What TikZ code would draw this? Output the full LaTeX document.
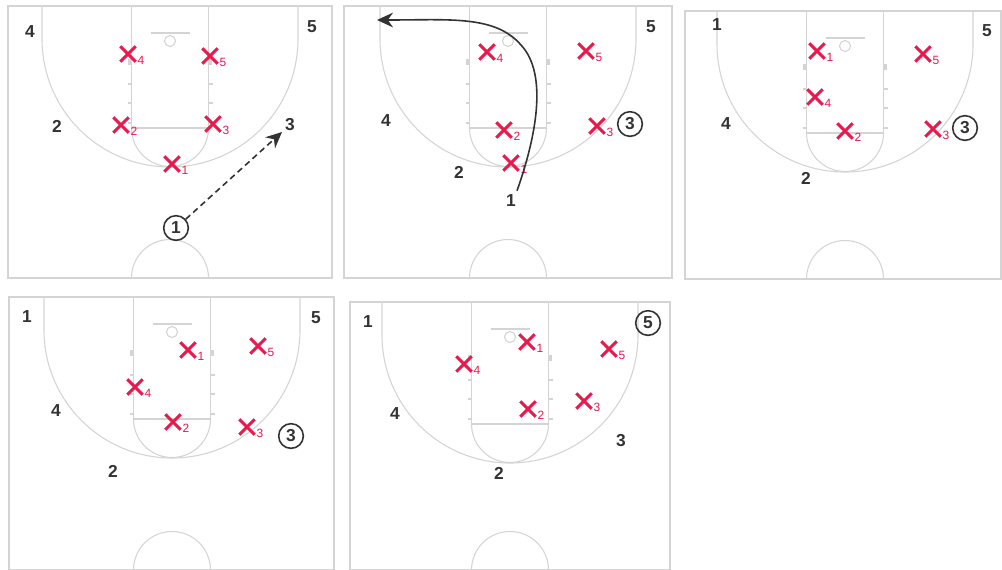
\documentclass[tikz,border=0pt]{standalone}
\usepackage{fontspec}
\setsansfont{Liberation Sans}
\usetikzlibrary{arrows.meta,shapes.misc,calc}
\definecolor{courtgray}{HTML}{D4D4D4}
\definecolor{ink}{HTML}{333333}
\definecolor{xred}{HTML}{E8194C}

% one half court: left, top, right, bottom, centre x
\newcommand{\halfcourt}[5]{%
  \draw[court] (#1,#2) rectangle (#3,#4);
  \draw[court] (#5-38.5,#2) rectangle (#5+38.5,#2+122);
  \draw[court] (#5-128,#2) -- (#5-128,#2+33) arc[start angle=180, end angle=0, radius=128] -- (#5+128,#2);
  \draw[court] (#5-38.5,#2+122) arc[start angle=180, end angle=0, radius=38.5];
  \draw[court] (#5-19.5,#2+27) -- (#5+19.5,#2+27);
  \draw[court] (#5,#2+35) circle[radius=5.5];
  \foreach \h in {78,97,117} {
    \draw[court] (#5-38.5,#2+\h) -- (#5-42.5,#2+\h);
    \draw[court] (#5+38.5,#2+\h) -- (#5+42.5,#2+\h);
  }
  \fill[courtgray] (#5-42,#2+53) rectangle (#5-38.5,#2+59);
  \fill[courtgray] (#5+38.5,#2+53) rectangle (#5+42,#2+59);
  \draw[court] (#5-38.5,#4) arc[start angle=180, end angle=360, radius=38.5];
}

\begin{document}
\begin{tikzpicture}[x=0.75pt, y=-0.75pt,
    court/.style={draw=courtgray, line width=0.8pt},
    offp/.style={font=\sffamily\bfseries\fontsize{13}{15}\selectfont, text=ink, inner sep=2pt},
    ballp/.style={offp, circle, draw=ink, line width=1.2pt, minimum size=18.5pt, inner sep=0pt},
    defx/.style={cross out, draw=xred, line width=2.3pt, minimum size=9.3pt, inner sep=0pt},
    xsub/.style={font=\sffamily\fontsize{9}{10}\selectfont, text=xred, inner sep=0.6pt, xshift=0.6pt, yshift=-4.5pt},
    passline/.style={-{Stealth[length=12pt, width=11pt]}, line width=1.2pt, ink, dash pattern=on 4.5pt off 3pt},
    cutline/.style={-{Stealth[length=12pt, width=11pt]}, line width=1.2pt, ink}]
    \useasboundingbox[fill=white] (0,0) rectangle (1002,569);

    % Courts
    \halfcourt{8}{6}{332}{278}{170}
    \halfcourt{344}{6}{672}{278}{508}
    \halfcourt{685}{11}{1001}{279}{845}
    \halfcourt{9}{297}{334}{570}{172}
    \halfcourt{350}{302}{670}{570}{510}

    % Panel 1: point passes to the wing
    \node[offp] (a4) at (30,32) {4};
    \node[offp] (a5) at (312,27) {5};
    \node[offp] (a2) at (57,126) {2};
    \node[offp] (a3) at (290,125) {3};
    \node[ballp] (a1) at (176,228) {1};
    \foreach \x/\y/\n in {128/54/4, 210/56/5, 121/125/2, 213/124/3, 172/164/1}
        \node[defx, label={[xsub]east:\n}] (a-x\n) at (\x,\y) {};
    \coordinate (a1pass) at (282,132);
    \draw[passline] (a1) -- (a1pass);

    % Panel 2: 1 cuts through to the corner
    \node[offp] (b5) at (651,27) {5};
    \node[offp] (b4) at (386,121) {4};
    \node[offp] (b2) at (459,172) {2};
    \node[offp] (b1) at (511,201) {1};
    \node[ballp] (b3) at (630,124) {3};
    \foreach \x/\y/\n in {487/52/4, 586/51/5, 504/130/2, 597/126/3, 511/163/1}
        \node[defx, label={[xsub]east:\n}] (b-x\n) at (\x,\y) {};
    \coordinate (b1cut) at (377,20);
    \draw[cutline] ([xshift=4.5pt,yshift=1pt]b1.north) .. controls (535,140) and (549,75) .. (521,45)
        .. controls (495,15) and (450,20) .. (b1cut);

    % Panel 3
    \node[offp] (c1) at (717,25) {1};
    \node[offp] (c5) at (987,31) {5};
    \node[offp] (c4) at (726,124) {4};
    \node[offp] (c2) at (806,178) {2};
    \node[ballp] (c3) at (965,128) {3};
    \foreach \x/\y/\n in {817/51/1, 923/54/5, 815/97/4, 845/131/2, 933/129/3}
        \node[defx, label={[xsub]east:\n}] (c-x\n) at (\x,\y) {};

    % Panel 4
    \node[offp] (d1) at (27,317) {1};
    \node[offp] (d5) at (316,318) {5};
    \node[offp] (d4) at (56,411) {4};
    \node[offp] (d2) at (113,471) {2};
    \node[ballp] (d3) at (291,436) {3};
    \foreach \x/\y/\n in {188/350/1, 258/346/5, 135/387/4, 173/422/2, 247/427/3}
        \node[defx, label={[xsub]east:\n}] (d-x\n) at (\x,\y) {};

    % Panel 5
    \node[offp] (e1) at (368,322) {1};
    \node[offp] (e4) at (395,414) {4};
    \node[offp] (e3) at (621,441) {3};
    \node[offp] (e2) at (499,473) {2};
    \node[ballp] (e5) at (648,323) {5};
    \foreach \x/\y/\n in {527/342/1, 464/364/4, 609/349/5, 584/401/3, 528/409/2}
        \node[defx, label={[xsub]east:\n}] (e-x\n) at (\x,\y) {};
\end{tikzpicture}
\end{document}
